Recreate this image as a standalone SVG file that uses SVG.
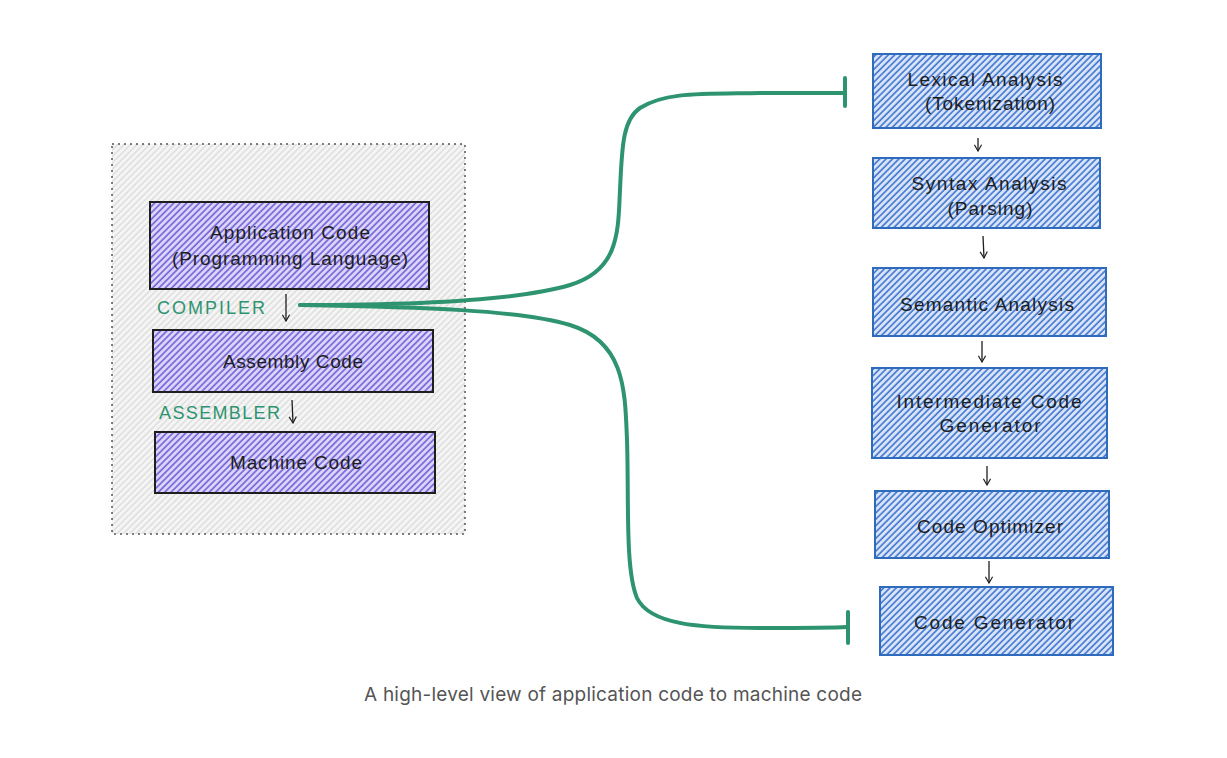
<svg xmlns="http://www.w3.org/2000/svg" width="1227" height="758" viewBox="0 0 1227 758">
<style>
.hand{font-family:"Liberation Sans","DejaVu Sans",sans-serif;font-size:19px;fill:#1e1e1e;text-anchor:middle}
.lbl{font-family:"Liberation Sans","DejaVu Sans",sans-serif;font-size:18px;fill:#2e9470}
.pbox{fill:url(#hatchP);stroke:#1e1e1e;stroke-width:2}
.bbox{fill:url(#hatchB);stroke:#2f6bbd;stroke-width:2}
.arr{fill:none;stroke:#1e1e1e;stroke-width:1.3}
.green{fill:none;stroke:#2e9470;stroke-width:4;stroke-linecap:round}
.cap{font-family:Inter,"Liberation Sans",sans-serif;font-size:19px;fill:#555}
</style>
<defs>
<pattern id="hatchP" patternUnits="userSpaceOnUse" width="4.5" height="4.5" patternTransform="rotate(45)">
<rect width="4.5" height="4.5" fill="#ddd6fa"/>
<line x1="1" y1="0" x2="1" y2="4.5" stroke="#7566d8" stroke-width="1.7"/>
</pattern>
<pattern id="hatchB" patternUnits="userSpaceOnUse" width="4.5" height="4.5" patternTransform="rotate(45)">
<rect width="4.5" height="4.5" fill="#d9e4f8"/>
<line x1="1" y1="0" x2="1" y2="4.5" stroke="#3f76d0" stroke-width="1.6"/>
</pattern>
<pattern id="hatchG" patternUnits="userSpaceOnUse" width="4.5" height="4.5" patternTransform="rotate(45)">
<rect width="4.5" height="4.5" fill="#f5f5f5"/>
<line x1="1" y1="0" x2="1" y2="4.5" stroke="#d2d2d2" stroke-width="1"/>
</pattern>
<marker id="ah" viewBox="0 0 10 10" refX="9" refY="5" markerWidth="9" markerHeight="9" orient="auto" markerUnits="userSpaceOnUse">
<path d="M2 1 L9 5 L2 9" fill="none" stroke="#1e1e1e" stroke-width="1.3"/>
</marker>
</defs>
<rect width="1227" height="758" fill="#ffffff"/>

<g id="container">
<rect x="112" y="144" width="353" height="390" fill="url(#hatchG)" stroke="#555" stroke-width="1.5" stroke-dasharray="2 4"/>
</g>

<g id="app-code">
<rect class="pbox" x="150" y="202" width="279" height="87"/>
<text class="hand" x="290" y="239" textLength="160">Application Code</text>
<text class="hand" x="290" y="265" textLength="236">(Programming Language)</text>
</g>
<g id="assembly-code">
<rect class="pbox" x="153" y="330" width="280" height="62"/>
<text class="hand" x="293" y="368" textLength="140">Assembly Code</text>
</g>
<g id="machine-code">
<rect class="pbox" x="155" y="432" width="280" height="61"/>
<text class="hand" x="296" y="469" textLength="132">Machine Code</text>
</g>
<g id="compiler-label"><text class="lbl" x="157" y="314" textLength="108">COMPILER</text></g>
<g id="assembler-label"><text class="lbl" x="159" y="419" textLength="121">ASSEMBLER</text></g>

<g id="lexical">
<rect class="bbox" x="873" y="54" width="228" height="74"/>
<text class="hand" x="985" y="86" textLength="155">Lexical Analysis</text>
<text class="hand" x="990" y="110" textLength="130">(Tokenization)</text>
</g>
<g id="syntax">
<rect class="bbox" x="873" y="158" width="227" height="70"/>
<text class="hand" x="989" y="190" textLength="155">Syntax Analysis</text>
<text class="hand" x="990" y="215" textLength="85">(Parsing)</text>
</g>
<g id="semantic">
<rect class="bbox" x="873" y="268" width="233" height="68"/>
<text class="hand" x="987" y="311" textLength="174">Semantic Analysis</text>
</g>
<g id="intermediate">
<rect class="bbox" x="872" y="368" width="235" height="90"/>
<text class="hand" x="989" y="408" textLength="185">Intermediate Code</text>
<text class="hand" x="990" y="432" textLength="101">Generator</text>
</g>
<g id="optimizer">
<rect class="bbox" x="875" y="491" width="234" height="67"/>
<text class="hand" x="990" y="533" textLength="146">Code Optimizer</text>
</g>
<g id="generator">
<rect class="bbox" x="880" y="587" width="233" height="68"/>
<text class="hand" x="994" y="629" textLength="160">Code Generator</text>
</g>

<g id="connectors">
<line class="arr" x1="286" y1="294" x2="286" y2="321" marker-end="url(#ah)"/>
<line class="arr" x1="292" y1="400" x2="293" y2="423" marker-end="url(#ah)"/>
<line class="arr" x1="978" y1="138" x2="978" y2="151" marker-end="url(#ah)"/>
<line class="arr" x1="983" y1="236" x2="984" y2="258" marker-end="url(#ah)"/>
<line class="arr" x1="982" y1="341" x2="982" y2="362" marker-end="url(#ah)"/>
<line class="arr" x1="987" y1="466" x2="987" y2="485" marker-end="url(#ah)"/>
<line class="arr" x1="989" y1="561" x2="989" y2="583" marker-end="url(#ah)"/>
<path class="green" d="M300 305 C420 305 520 300 570 285 C620 270 618 230 620 190 C622 150 622 120 640 108 C665 92 700 94 760 93 C800 93 830 93 845 93"/>
<line class="green" x1="845" y1="78" x2="845" y2="106"/>
<path class="green" d="M300 305 C420 307 520 310 570 325 C625 342 625 390 627 440 C629 500 625 570 637 598 C650 625 700 628 760 628 C800 628 830 628 847 627"/>
<line class="green" x1="848" y1="612" x2="848" y2="643"/>
</g>

<text class="cap" x="364" y="701" textLength="498">A high-level view of application code to machine code</text>
</svg>
